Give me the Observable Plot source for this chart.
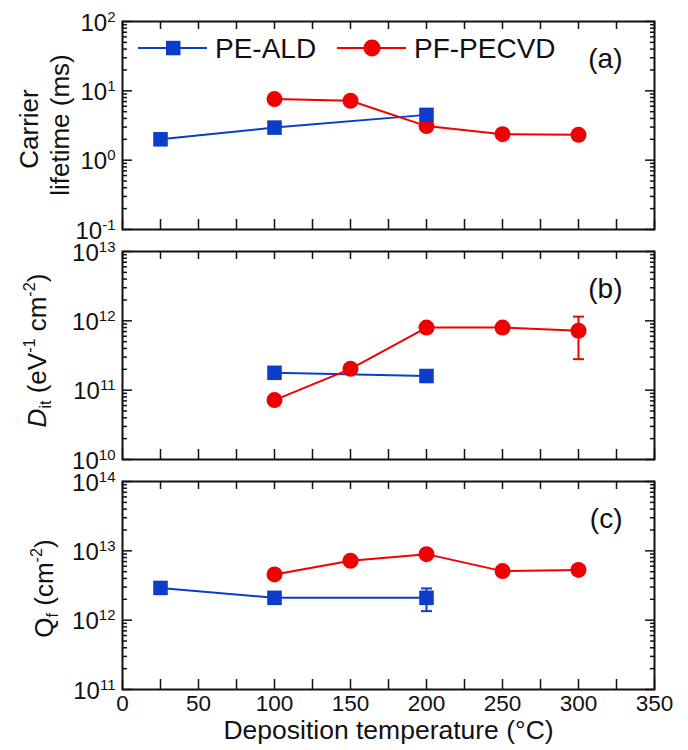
<!DOCTYPE html>
<html>
<head>
<meta charset="utf-8">
<script src="https://cdn.jsdelivr.net/npm/d3@7"></script>
<script src="https://cdn.jsdelivr.net/npm/@observablehq/plot@0.6"></script>
<style>
  html, body { margin: 0; padding: 0; background: #fff; }
  #chart { position: relative; width: 688px; height: 750px; background: #fff; overflow: hidden; }
  #chart svg { position: absolute; left: 0; overflow: visible; }
</style>
</head>
<body>
<div id="chart"></div>
<script>
// ---------------- data ----------------
const seriesNames = ["PE-ALD", "PF-PECVD"];
const panelTags = ["(a)", "(b)", "(c)"];

// (a) carrier lifetime (ms)
const aldTempA = [25, 100, 200];
const aldLifetime = [2.0, 2.95, 4.5];
const pecvdTempA = [100, 150, 200, 250, 300];
const pecvdLifetime = [7.6, 7.2, 3.1, 2.37, 2.32];

// (b) Dit (eV^-1 cm^-2)
const aldTempB = [100, 200];
const aldDit = [1.78e11, 1.6e11];
const pecvdTempB = [100, 150, 200, 250, 300];
const pecvdDit = [7.2e10, 2.03e11, 8.0e11, 8.0e11, 7.2e11];
const pecvdDitErrTemp = [300];
const pecvdDitErrLow = [2.8e11];
const pecvdDitErrHigh = [1.15e12];

// (c) Qf (cm^-2)
const aldTempC = [25, 100, 200];
const aldQf = [2.92e12, 2.1e12, 2.1e12];
const aldQfErrTemp = [200];
const aldQfErrLow = [1.35e12];
const aldQfErrHigh = [2.87e12];
const pecvdTempC = [100, 150, 200, 250, 300];
const pecvdQf = [4.57e12, 7.2e12, 8.96e12, 5.1e12, 5.3e12];

// axes
const xDomain = [0, 350];
const xTickValues = [0, 25, 50, 75, 100, 125, 150, 175, 200, 225, 250, 275, 300, 325, 350];
const xTickLabels = [0, 50, 100, 150, 200, 250, 300, 350];
const yDomainA = [0.1, 100];
const yDomainB = [1e10, 1e13];
const yDomainC = [1e11, 1e14];
const xTitle = "Deposition temperature (°C)";

// ---------------- style ----------------
const FONT = '"Liberation Sans", Arial, Helvetica, sans-serif';
const BLUE = "#0b3ccb";
const RED = "#f00000";

const rows = (xs, ys) => xs.map((x, i) => ({x, y: ys[i]}));
const errRows = (xs, lo, hi) => xs.map((x, i) => ({x, lo: lo[i], hi: hi[i]}));

function decades([lo, hi]) {
  const e0 = Math.round(Math.log10(lo)), e1 = Math.round(Math.log10(hi));
  return d3.range(e0, e1 + 1).map(e => +(`1e${e}`));
}
function minors([lo, hi]) {
  const e0 = Math.round(Math.log10(lo)), e1 = Math.round(Math.log10(hi));
  const out = [];
  for (let e = e0; e < e1; e++) for (let k = 2; k <= 9; k++) out.push(+(`${k}e${e}`));
  return out;
}

const capSymbol = {
  draw(ctx, size) {
    const r = Math.sqrt(size / Math.PI);
    ctx.moveTo(-r, 0);
    ctx.lineTo(r, 0);
  }
};

function panel(cfg) {
  const {top, height, marginTop, marginBottom, yDomain, blue, red, blueErr, redErr, tag, extra = [], xLabels = false} = cfg;
  const maj = decades(yDomain), mnr = minors(yDomain);
  const t = {label: null, fill: "none", strokeWidth: 1.5, tickFormat: () => ""};
  const marks = [
    Plot.axisY({...t, anchor: "left", ticks: maj, tickSize: -10}),
    Plot.axisY({...t, anchor: "left", ticks: mnr, tickSize: -5}),
    Plot.axisY({...t, anchor: "right", ticks: maj, tickSize: -10}),
    Plot.axisY({...t, anchor: "right", ticks: mnr, tickSize: -5}),
    Plot.axisX({...t, anchor: "bottom", ticks: xTickValues, tickSize: -10}),
    Plot.axisX({...t, anchor: "top", ticks: xTickValues, tickSize: -7}),
    Plot.axisY({anchor: "left", ticks: maj, tickSize: 0, tickPadding: 7, dy: 1.5, fontSize: 24, label: null,
      tickFormat: d => "10^" + Math.round(Math.log10(d))}),
  ];
  if (xLabels) {
    marks.push(Plot.axisX({anchor: "bottom", ticks: xTickLabels, tickSize: 0, tickPadding: 6, fontSize: 22.5, label: null,
      tickFormat: d => String(d)}));
  }
  marks.push(
    Plot.line(blue, {x: "x", y: "y", stroke: BLUE, strokeWidth: 2}),
    Plot.line(red, {x: "x", y: "y", stroke: RED, strokeWidth: 2})
  );
  for (const [err, color] of [[redErr, RED], [blueErr, BLUE]]) {
    if (!err) continue;
    marks.push(
      Plot.ruleX(err, {x: "x", y1: "lo", y2: "hi", stroke: color, strokeWidth: 2}),
      Plot.dot(err, {x: "x", y: "lo", symbol: capSymbol, r: 5.5, stroke: color, strokeWidth: 2, fill: "none"}),
      Plot.dot(err, {x: "x", y: "hi", symbol: capSymbol, r: 5.5, stroke: color, strokeWidth: 2, fill: "none"})
    );
  }
  marks.push(
    Plot.dot(red, {x: "x", y: "y", symbol: "circle", r: 8, fill: RED, stroke: "none"}),
    Plot.dot(blue, {x: "x", y: "y", symbol: "square", r: 8.2, fill: BLUE, stroke: "none"}),
    Plot.text([tag], {frameAnchor: "top-right", dx: -32, dy: 27, textAnchor: "end", fontSize: 28, fill: "#111"}),
    ...extra,
    Plot.frame({strokeWidth: 2})
  );
  const svg = Plot.plot({
    width: 688, height, marginLeft: 122, marginRight: 34, marginTop, marginBottom,
    x: {domain: xDomain},
    y: {type: "log", domain: yDomain},
    style: {background: "transparent", fontFamily: FONT, color: "#111", overflow: "visible"},
    marks
  });
  svg.style.top = top + "px";
  // superscript tick labels
  d3.select(svg).selectAll("text").each(function () {
    const s = this.textContent;
    if (s.startsWith("10^")) {
      const e = s.slice(3);
      this.textContent = "";
      d3.select(this).append("tspan").text("10");
      d3.select(this).append("tspan").attr("dy", -9).attr("font-size", 15).text(e);
    }
  });
  return svg;
}

function richify(svg, plain, segs, fs) {
  d3.select(svg).selectAll("text").each(function () {
    if (this.textContent !== plain) return;
    this.textContent = "";
    let shift = 0;
    for (const seg of segs) {
      const target = seg.sup ? -0.42 * fs : seg.sub ? 0.22 * fs : 0;
      const ts = d3.select(this).append("tspan").text(seg.t);
      if (target - shift !== 0) ts.attr("dy", target - shift);
      if (seg.sup || seg.sub) ts.attr("font-size", 0.62 * fs);
      if (seg.italic) ts.attr("font-style", "italic");
      shift = target;
    }
  });
}

const TFS = 26;
const ditSegs = [{t: "D", italic: true}, {t: "it", sub: true}, {t: " (eV"}, {t: "-1", sup: true}, {t: " cm"}, {t: "-2", sup: true}, {t: ")"}];
const qfSegs = [{t: "Q"}, {t: "f", sub: true}, {t: " (cm"}, {t: "-2", sup: true}, {t: ")"}];
const plainOf = segs => segs.map(s => s.t).join("");
const titleOpts = {frameAnchor: "left", rotate: -90, textAnchor: "middle", lineAnchor: "bottom", fontSize: TFS, fill: "#111"};

const chart = document.getElementById("chart");

const svgA = panel({
  top: 0, height: 240, marginTop: 21, marginBottom: 11, yDomain: yDomainA,
  blue: rows(aldTempA, aldLifetime), red: rows(pecvdTempA, pecvdLifetime), tag: panelTags[0],
  extra: [
    Plot.text(["Carrier"], {...titleOpts, dx: -85, dy: 3.5}),
    Plot.text(["lifetime (ms)"], {...titleOpts, dx: -54, dy: -0.5})
  ]
});
const svgB = panel({
  top: 240, height: 230, marginTop: 11, marginBottom: 11, yDomain: yDomainB,
  blue: rows(aldTempB, aldDit), red: rows(pecvdTempB, pecvdDit),
  redErr: errRows(pecvdDitErrTemp, pecvdDitErrLow, pecvdDitErrHigh), tag: panelTags[1],
  extra: [
    Plot.text([plainOf(ditSegs)], {...titleOpts, dx: -77, dy: -5})
  ]
});
const svgC = panel({
  top: 470, height: 280, marginTop: 11, marginBottom: 61, yDomain: yDomainC,
  blue: rows(aldTempC, aldQf), red: rows(pecvdTempC, pecvdQf),
  blueErr: errRows(aldQfErrTemp, aldQfErrLow, aldQfErrHigh), tag: panelTags[2], xLabels: true,
  extra: [
    Plot.text([plainOf(qfSegs)], {...titleOpts, dx: -70, dy: 3}),
    Plot.text([xTitle], {frameAnchor: "bottom", dy: 49.5, lineAnchor: "bottom", fontSize: 26.5, fill: "#111"})
  ]
});
richify(svgB, plainOf(ditSegs), ditSegs, TFS);
richify(svgC, plainOf(qfSegs), qfSegs, TFS);
chart.append(svgA, svgB, svgC);

// ---------------- legend (inside panel a) ----------------
const leg = d3.create("svg").attr("width", 688).attr("height", 80)
  .style("top", "0px").style("font-family", FONT);
const legItems = [
  {name: seriesNames[0], color: BLUE, x0: 138, sym: "square"},
  {name: seriesNames[1], color: RED, x0: 337, sym: "circle"}
];
for (const it of legItems) {
  const g = leg.append("g").attr("transform", `translate(${it.x0},48)`);
  g.append("line").attr("x1", 0).attr("x2", 69).attr("stroke", it.color).attr("stroke-width", 2);
  if (it.sym === "square") g.append("rect").attr("x", 28).attr("y", -7.2).attr("width", 14.5).attr("height", 14.5).attr("fill", it.color);
  else g.append("circle").attr("cx", 35).attr("r", 8.5).attr("fill", it.color);
  g.append("text").attr("x", 77).attr("y", 9.5).attr("font-size", 28).attr("fill", "#111").text(it.name);
}
chart.append(leg.node());
</script>
</body>
</html>
